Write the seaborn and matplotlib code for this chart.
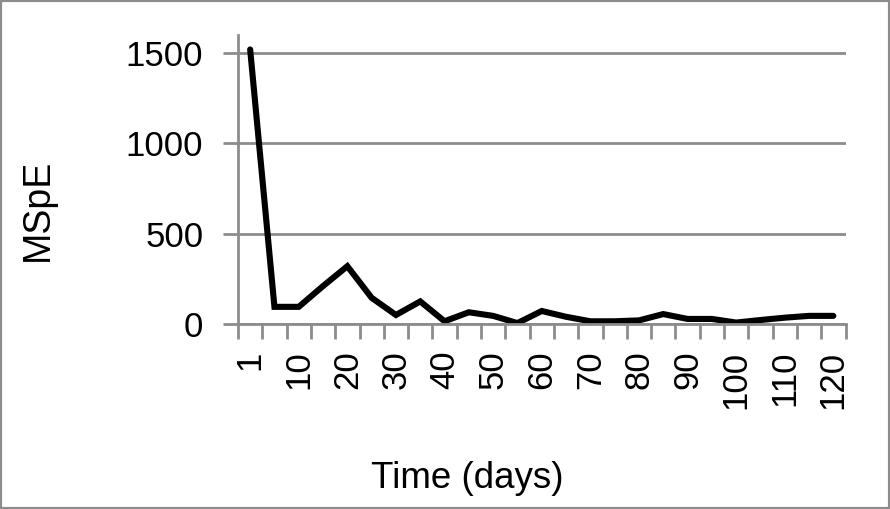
import seaborn as sns
import pandas as pd
import matplotlib
matplotlib.use("Agg")
from matplotlib import pyplot as plt
from matplotlib.ticker import FixedLocator, FixedFormatter
from matplotlib.patches import Rectangle

days = [1, 5, 10, 15, 20, 25, 30, 35, 40, 45, 50, 55, 60,
        65, 70, 75, 80, 85, 90, 95, 100, 105, 110, 115, 120]
mspe = [1520, 95, 95, 210, 320, 145, 50, 125, 15, 65, 45, 5, 72,
        40, 15, 15, 20, 55, 28, 28, 8, 22, 35, 45, 45]
shown_labels = ["1", "10", "20", "30", "40", "50", "60", "70", "80", "90", "100", "110", "120"]

sns.set_style("white")
plt.rcParams['font.family'] = ['Liberation Sans', 'DejaVu Sans']
plt.rcParams['text.color'] = 'black'
plt.rcParams['xtick.color'] = 'black'
plt.rcParams['ytick.color'] = 'black'

df = pd.DataFrame({"day": [str(d) for d in days], "MSpE": mspe})

fig = plt.figure(figsize=(8.9, 5.09), dpi=100)
ax = fig.add_axes([238/890, 1 - 324/509, (845.5 - 238)/890, (324 - 35)/509])

grey = "#8c8c8c"
sns.lineplot(data=df, x="day", y="MSpE", ax=ax, color="black", linewidth=4.4,
             sort=False, solid_joinstyle="miter")

n = len(days)
ax.set_xlim(-0.5, n - 0.5)
ax.set_ylim(0, 1600)
ax.set_yticks([0, 500, 1000, 1500])
ax.grid(axis="y", color=grey, linewidth=2)
ax.set_axisbelow(True)

# ticks between categories, labels on every other category
ax.xaxis.set_major_locator(FixedLocator([i - 0.5 for i in range(n + 1)]))
ax.xaxis.set_major_formatter(FixedFormatter([""] * (n + 1)))
ax.xaxis.set_minor_locator(FixedLocator(list(range(0, n, 2))))
ax.xaxis.set_minor_formatter(FixedFormatter(shown_labels))
ax.tick_params(axis="x", which="major", direction="out", length=11, width=2,
               color=grey, bottom=True)
ax.tick_params(axis="x", which="minor", length=0, pad=19, labelsize=25,
               labelrotation=90, bottom=True, labelcolor="black")
for lab in ax.xaxis.get_minorticklabels():
    lab.set_va("top")
ax.tick_params(axis="y", direction="out", length=11, width=2, color=grey,
               labelsize=25, pad=14, left=True, labelcolor="black")

for s in ["top", "right"]:
    ax.spines[s].set_visible(False)
for s in ["left", "bottom"]:
    ax.spines[s].set_color(grey)
    ax.spines[s].set_linewidth(2)

ax.set_xlabel("")
ax.set_ylabel("")
fig.text(38/890, 1 - 210/509, "MSpE", rotation=90, ha="center", va="center",
         fontsize=27, color="black")
fig.text(467/890, 1 - 478/509, "Time (days)", ha="center", va="center",
         fontsize=26.5, color="black")

fig.patches.append(Rectangle((0, 0), 1, 1, transform=fig.transFigure, fill=False,
                             edgecolor=grey, linewidth=3))

fig.savefig("out.png", dpi=100)
